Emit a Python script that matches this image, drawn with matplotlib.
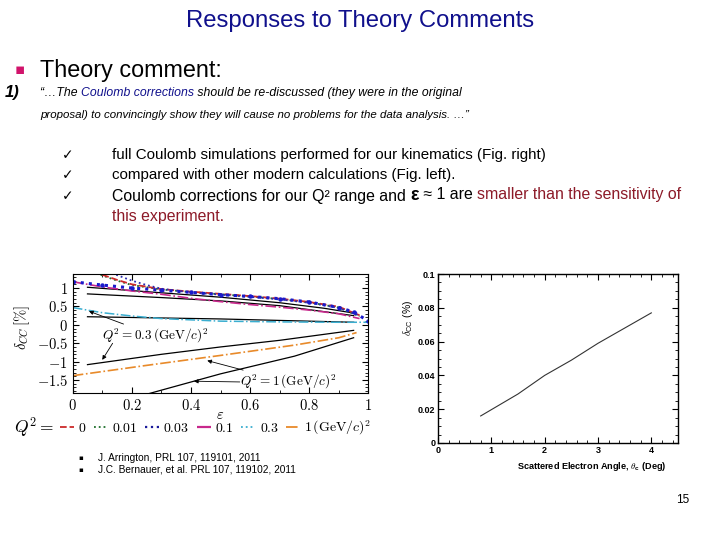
import matplotlib
matplotlib.use('Agg')
import matplotlib.pyplot as plt
from matplotlib.ticker import MultipleLocator, FuncFormatter
from matplotlib.lines import Line2D

plt.rcParams['mathtext.fontset'] = 'cm'

#------------------------------------------------------------------------------
# data

# left figure: delta_CC [%] vs epsilon
eps_red = [0.07, 0.1, 0.15, 0.2, 0.3, 0.4, 0.5, 0.6, 0.7, 0.8, 0.9, 0.97]
cc_red = [1.45, 1.36, 1.22, 1.1, 0.97, 0.9, 0.84, 0.78, 0.71, 0.62, 0.49, 0.26]
eps_green = [0.08, 0.1, 0.15, 0.2, 0.3, 0.4, 0.5, 0.6, 0.7, 0.8, 0.9, 0.97]
cc_green = [1.42, 1.34, 1.2, 1.08, 0.96, 0.89, 0.83, 0.77, 0.7, 0.61, 0.47, 0.23]
eps_blue = [0.1, 0.15, 0.2, 0.25, 0.3, 0.4, 0.5, 0.6, 0.7, 0.8, 0.9, 0.97]
cc_blue = [1.45, 1.35, 1.2, 1.08, 0.98, 0.88, 0.82, 0.76, 0.69, 0.6, 0.46, 0.25]
eps_blue_thick = [0.0, 0.1, 0.2, 0.3, 0.4, 0.5, 0.6, 0.7, 0.8, 0.9, 0.95, 1.0]
cc_blue_thick = [1.17, 1.08, 1.0, 0.94, 0.88, 0.82, 0.77, 0.71, 0.62, 0.47, 0.35, 0.1]
eps_magenta = [0.0, 0.1, 0.2, 0.3, 0.4, 0.5, 0.6, 0.7, 0.8, 0.9, 0.97]
cc_magenta = [1.17, 1.03, 0.92, 0.83, 0.72, 0.63, 0.55, 0.48, 0.4, 0.3, 0.17]
eps_cyan = [0.0, 0.05, 0.1, 0.2, 0.3, 0.5, 0.7, 0.9, 1.0]
cc_cyan = [0.47, 0.4, 0.33, 0.24, 0.17, 0.1, 0.08, 0.07, 0.07]
eps_orange = [0.0, 0.25, 0.5, 0.75, 0.9, 0.96]
cc_orange = [-1.38, -1.1, -0.83, -0.55, -0.35, -0.21]

eps_black_1 = [0.05, 0.3, 0.5, 0.7, 0.85, 0.95]
cc_black_1 = [1.02, 0.87, 0.75, 0.6, 0.45, 0.32]
eps_black_2 = [0.05, 0.3, 0.5, 0.7, 0.95]
cc_black_2 = [0.84, 0.74, 0.65, 0.52, 0.25]
eps_black_3 = [0.05, 0.5, 0.95]
cc_black_3 = [0.22, 0.16, 0.07]
eps_black_4 = [0.05, 0.3, 0.5, 0.7, 0.95]
cc_black_4 = [-1.08, -0.8, -0.6, -0.42, -0.15]
eps_black_5 = [0.22, 0.5, 0.75, 0.95]
cc_black_5 = [-1.95, -1.33, -0.85, -0.35]

legend_labels = ['$0$', '$0.01$', '$0.03$', '$0.1$', '$0.3$',
                 r'$1\,(\mathrm{GeV}/c)^2$']

# right figure: delta_CC (%) vs scattered electron angle
angle = [0.8, 1.5, 2.0, 2.5, 3.0, 3.5, 4.0]
cc_angle = [0.016, 0.029, 0.040, 0.049, 0.059, 0.068, 0.077]

refs = ['J. Arrington, PRL 107, 119101, 2011',
        'J.C. Bernauer, et al. PRL 107, 119102, 2011']

#------------------------------------------------------------------------------
# slide text

fig = plt.figure(figsize=(7.2, 5.4), dpi=100)
bg = fig.add_axes([0, 0, 1, 1])
bg.set_xlim(0, 720)
bg.set_ylim(540, 0)
bg.axis('off')

SANS = ['Liberation Sans', 'DejaVu Sans']
BLUE = '#10108c'
DRED = '#8c1a28'


def rich(x, y, pieces, **kw):
    # place text pieces one after the other on the same line
    s, c = pieces[0]
    t = bg.text(x, y, s, color=c, va='center', ha='left', **kw)
    for s, c in pieces[1:]:
        t = bg.annotate(s, xy=(1, 0), xycoords=t, va='bottom', ha='left',
                        color=c, **kw)
    return t


bg.text(360, 21, 'Responses to Theory Comments', color=BLUE, ha='center',
        va='center', fontsize=17.2, family=SANS)

bg.text(15, 70, '\u25aa', color='#d1136b', ha='left', va='center',
        fontsize=11, family=['DejaVu Sans'])
bg.text(40, 70, 'Theory comment:', color='black', ha='left', va='center',
        fontsize=16.8, family=SANS)

bg.text(5, 93, '1)', color='black', ha='left', va='center', fontsize=12,
        style='italic', weight='bold', family=SANS)
rich(40, 93, [('\u201c\u2026The ', 'black'),
              ('Coulomb corrections', BLUE),
              (' should be re-discussed (they were in the original', 'black')],
     fontsize=8.8, style='italic', family=SANS)
rich(40, 115, [('proposal) to convincingly show they will cause no problems '
                'for the data analysis. \u2026\u201d', 'black')],
     fontsize=8.25, style='italic', family=SANS)

check_y = [155, 175, 196]
for yy in check_y:
    bg.text(62, yy, '\u2713', color='black', ha='left', va='center',
            fontsize=10, family=['DejaVu Sans'])

rich(112, 155, [('full Coulomb simulations performed for our kinematics '
                 '(Fig. right)', 'black')], fontsize=10.9, family=SANS)
rich(112, 175, [('compared with other modern calculations (Fig. left).',
                 'black')], fontsize=10.9, family=SANS)
t = rich(112, 196, [('Coulomb corrections for our Q\u00b2 range and ', 'black')],
         fontsize=11.4, family=SANS)
t = bg.annotate('\u03b5', xy=(1, 0), xycoords=t, va='bottom', ha='left',
                fontsize=13, weight='bold', family=SANS)
t = bg.annotate(' \u2248 1 are ', xy=(1, 0.08), xycoords=t, va='bottom',
                ha='left', fontsize=11.4, family=SANS)
bg.annotate('smaller than the sensitivity of', xy=(1, 0), xycoords=t,
            va='bottom', ha='left', fontsize=11.4, color=DRED, family=SANS)
rich(112, 217, [('this experiment.', DRED)], fontsize=11.4, family=SANS)

for i, r in enumerate(refs):
    bg.text(78, 458 + 12 * i, '\u25aa', ha='left', va='center', fontsize=5,
            family=['DejaVu Sans'])
    bg.text(98, 458 + 12 * i, r, ha='left', va='center', fontsize=7.3,
            family=SANS)

bg.text(676, 500, '15', ha='left', va='center', fontsize=8.5, family=SANS)

#------------------------------------------------------------------------------
# left figure

ax = fig.add_axes([72.7 / 720, 1 - 393 / 540, 295.7 / 720, 119 / 540])

for e, v in [(eps_black_1, cc_black_1), (eps_black_2, cc_black_2),
             (eps_black_3, cc_black_3), (eps_black_4, cc_black_4),
             (eps_black_5, cc_black_5)]:
    ax.plot(e, v, '-', color='black', lw=0.9)

ax.plot(eps_cyan, cc_cyan, '-.', color='#3aaed0', lw=1.1)
ax.plot(eps_orange, cc_orange, '-.', color='#e88a2a', lw=1.2)
ax.plot(eps_magenta, cc_magenta, '-.', color='#c8288c', lw=1.2)
ax.plot(eps_green, cc_green, ':', color='#1e6e2a', lw=1.3)
ax.plot(eps_red, cc_red, '--', color='#cc2a2a', lw=1.3)
ax.plot(eps_blue, cc_blue, ':', color='#2a2ab0', lw=1.3)
ax.plot(eps_blue_thick, cc_blue_thick, ':', color='#1a1acc', lw=2.2,
        marker='o', ms=2.2)

ax.set_xlim(0, 1)
ax.set_ylim(-1.85, 1.38)
ax.xaxis.set_major_locator(MultipleLocator(0.2))
ax.xaxis.set_minor_locator(MultipleLocator(0.1))
ax.yaxis.set_major_locator(MultipleLocator(0.5))
ax.yaxis.set_minor_locator(MultipleLocator(0.1))
ax.tick_params(which='both', direction='in', top=True, right=True,
               labelsize=10.5)
ax.tick_params(which='major', length=4)
ax.tick_params(which='minor', length=2)
ax.xaxis.set_major_formatter(FuncFormatter(lambda v, p: '$%g$' % round(v, 2)))
ax.yaxis.set_major_formatter(FuncFormatter(lambda v, p: '$%g$' % round(v, 2)))
for s in ax.spines.values():
    s.set_linewidth(0.8)

ax.set_xlabel(r'$\varepsilon$', fontsize=10.5)
ax.xaxis.set_label_coords(0.5, -0.115)
ax.set_ylabel(r'$\delta_{CC}\,[\%]$', fontsize=10.5)
ax.yaxis.set_label_coords(-0.138, 0.55)

arrow = dict(arrowstyle='-|>', color='black', lw=0.6, mutation_scale=6,
             shrinkA=0, shrinkB=0)
lab03 = r'$Q^2 = 0.3\,(\mathrm{GeV}/c)^2$'
ax.annotate(lab03, xy=(0.055, 0.37), xytext=(0.1, -0.3), fontsize=9.5,
            ha='left', va='center', arrowprops=arrow)
ax.annotate('', xy=(0.1, -0.95), xytext=(0.135, -0.5), arrowprops=arrow)
lab1 = r'$Q^2 = 1\,(\mathrm{GeV}/c)^2$'
ax.annotate(lab1, xy=(0.455, -0.97), xytext=(0.565, -1.55), fontsize=9.5,
            ha='left', va='center', arrowprops=arrow)
ax.annotate('', xy=(0.41, -1.53), xytext=(0.565, -1.55), arrowprops=arrow)

handles = [Line2D([], [], ls='--', color='#cc2a2a', lw=1.3),
           Line2D([], [], ls=':', color='#1e6e2a', lw=1.3),
           Line2D([], [], ls=':', color='#1a1a9a', lw=1.6),
           Line2D([], [], ls='-.', color='#c8288c', lw=1.6),
           Line2D([], [], ls=':', color='#3aaed0', lw=1.3),
           Line2D([], [], ls='-.', color='#e88a2a', lw=1.3)]
fig.text(14 / 720, 1 - 428 / 540, r'$Q^2 =$', fontsize=12.5, ha='left',
         va='center')
fig.legend(handles, legend_labels, loc='center left',
           bbox_to_anchor=(60 / 720, 1 - 428 / 540), ncol=6, frameon=False,
           fontsize=10, handlelength=1.0, handletextpad=0.3,
           columnspacing=0.55, borderaxespad=0, borderpad=0)

#------------------------------------------------------------------------------
# right figure

ax2 = fig.add_axes([438 / 720, 1 - 443 / 540, 240 / 720, 169 / 540])
ax2.plot(angle, cc_angle, '-', color='#333333', lw=0.8)
ax2.set_xlim(0, 4.5)
ax2.set_ylim(0, 0.1)
ax2.set_xticks([0, 1, 2, 3, 4])
ax2.xaxis.set_minor_locator(MultipleLocator(0.2))
ax2.set_yticks([0, 0.02, 0.04, 0.06, 0.08, 0.1])
ax2.set_yticklabels(['0', '0.02', '0.04', '0.06', '0.08', '0.1'])
ax2.yaxis.set_minor_locator(MultipleLocator(0.005))
ax2.tick_params(which='both', direction='in', top=True, right=True,
                labelsize=6.5, pad=2)
ax2.tick_params(which='major', length=4)
ax2.tick_params(which='minor', length=2)
for lab in ax2.get_xticklabels() + ax2.get_yticklabels():
    lab.set_fontweight('bold')
    lab.set_family(SANS)
for s in ax2.spines.values():
    s.set_linewidth(1.0)

ax2.set_ylabel(r'$\delta_{\mathregular{CC}}$ (%)', fontsize=7.5, family=SANS)
ax2.yaxis.set_label_coords(-0.097, 0.74)
ax2.set_xlabel(r'Scattered Electron Angle, $\theta_{\mathregular{c}}$ (Deg)',
               fontsize=6.6, weight='bold', family=SANS)
ax2.xaxis.set_label_coords(0.64, -0.1)

fig.savefig('out.png', dpi=100)
